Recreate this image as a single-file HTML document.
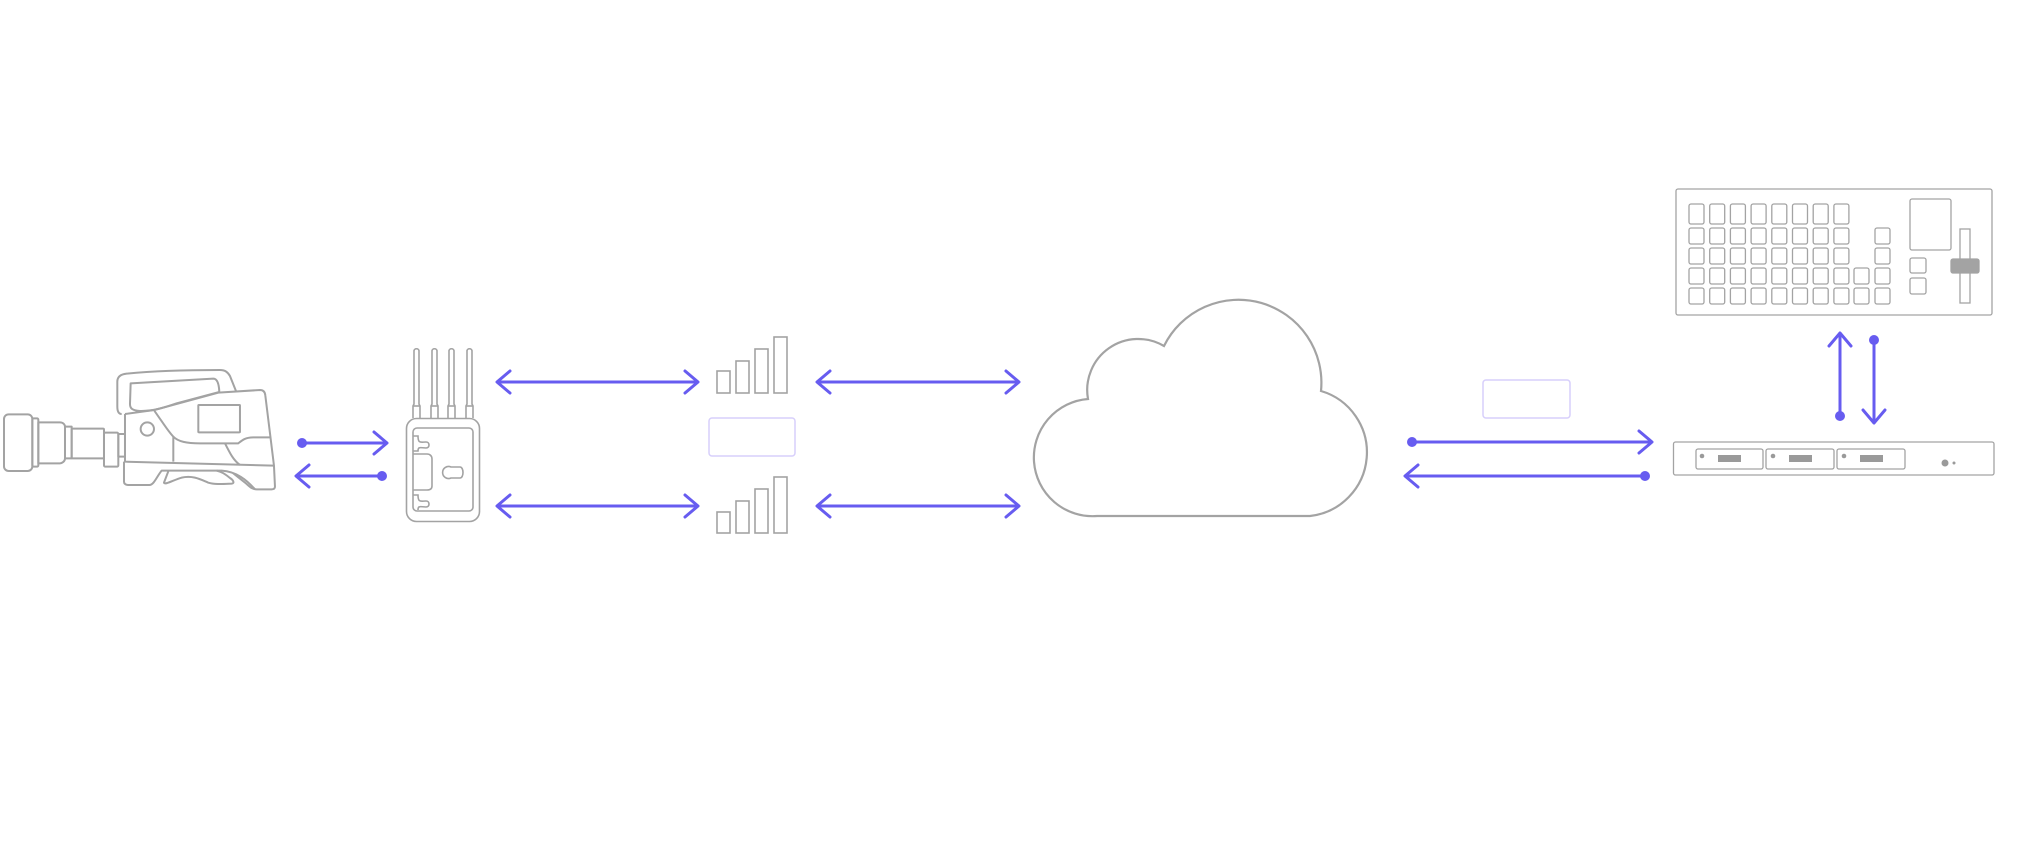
<!DOCTYPE html>
<html><head><meta charset="utf-8"><style>
html,body{margin:0;padding:0;background:#fff;}
svg{display:block;}
</style></head><body>
<svg width="2033" height="864" viewBox="0 0 2033 864" xmlns="http://www.w3.org/2000/svg">
<defs>
<g id="ar"><path d="M-13,-11 L0,0 L-13,11" fill="none" stroke="#675cf0" stroke-width="3" stroke-linecap="round" stroke-linejoin="round"/></g>
</defs>
<g fill="none" stroke="#a3a3a3">
<!-- camera -->
<g transform="translate(0,320) scale(0.3333)" stroke-width="6" stroke-linejoin="round">
<rect x="12" y="283" width="85" height="170" rx="14"/>
<rect x="97" y="295" width="18" height="145" rx="4"/>
<path d="M115,307 L180,307 C190,307 195,315 195,320 L195,415 C195,425 185,430 180,430 L115,430 Z"/>
<rect x="195" y="320" width="20" height="95"/>
<rect x="215" y="326" width="97" height="89" rx="3"/>
<rect x="312" y="338" width="43" height="102" rx="4"/>
<rect x="355" y="342" width="20" height="68"/>
<path d="M375,282 L375,425 L820,437"/>
<path d="M365,282 C355,282 352,272 352,260 L352,185 C352,170 362,163 380,161 C470,152 560,150 660,150 C675,150 683,156 690,168 L708,213"/>
<path d="M392,190 L640,176 C652,176 657,190 658,216 L530,250 C495,262 460,274 420,273 C398,272 390,266 390,252 Z"/>
<path d="M375,282 L463,270 L655,218 L780,210 C790,210 795,216 796,226 L822,437 L825,500 C825,506 820,508 815,508 L770,508 C755,508 750,500 735,488 L700,460"/>
<rect x="595" y="255" width="125" height="82" rx="2"/>
<circle cx="442" cy="327" r="20"/>
<path d="M463,272 C490,310 505,335 520,350 L520,425"/>
<path d="M520,350 C535,365 560,370 600,370 L715,370 C725,362 735,352 760,352 L810,352"/>
<path d="M675,370 C690,400 700,420 720,435"/>
<path d="M372,425 L372,485 C372,492 378,495 386,495 L448,495 C462,495 470,470 485,452 L665,452 C710,455 740,480 765,508"/>
<path d="M505,454 L492,488 C495,496 520,480 545,473 C580,465 605,480 625,488 C645,494 670,492 695,491 C705,490 700,480 690,474 C675,462 665,455 650,452"/>
</g>
<!-- transmitter -->
<g stroke-width="1.6">
<rect x="406.5" y="418.5" width="73" height="103" rx="10"/>
<rect x="413" y="428" width="60" height="83" rx="4"/>
<path d="M413,436 L418,436 C418,444 421,442 426,442 C430,442 430,448 426,448 C421,448 418,446 418,451 L413,451"/>
<path d="M413,495 L418,495 C418,503 421,501 426,501 C430,501 430,507 426,507 C421,507 418,505 418,510"/>
<path d="M413,454 L427,454 C430,454 432,456 432,459 L432,486 C432,489 430,490 427,490 L413,490"/>
<path d="M451,467 A6,6 0 1 0 451,478 L460,478 C464,478 464,467 460,467 Z"/>
<g id="ant"><path d="M413,418 L413,406 L414,404 L414,351 C414,348 419,348 419,351 L419,404 L420,406 L420,418"/><line x1="413" y1="406" x2="420" y2="406"/></g>
<use href="#ant" x="18"/><use href="#ant" x="35"/><use href="#ant" x="53"/>
<!-- bars -->
<rect x="717" y="371" width="13" height="22"/><rect x="736" y="361" width="13" height="32"/><rect x="755" y="349" width="13" height="44"/><rect x="774" y="337" width="13" height="56"/>
<rect x="717" y="512" width="13" height="21"/><rect x="736" y="501" width="13" height="32"/><rect x="755" y="489" width="13" height="44"/><rect x="774" y="477" width="13" height="56"/>
</g>
<!-- cloud -->
<path stroke-width="2.2" d="M1097,516 A58,58 0 0 1 1088,399 A51,51 0 0 1 1164,346 A83,83 0 0 1 1321,391 A64,64 0 0 1 1310,516 Z"/>
<!-- switcher -->
<g stroke-width="1.3">
<rect x="1676" y="189" width="316" height="126" rx="2"/>
<g id="b0">
<rect x="1689" y="204" width="15" height="20" rx="2"/><rect x="1689" y="228" width="15" height="16" rx="2"/><rect x="1689" y="248" width="15" height="16" rx="2"/><rect x="1689" y="268" width="15" height="16" rx="2"/><rect x="1689" y="288" width="15" height="16" rx="2"/>
</g>
<use href="#b0" x="20.7"/><use href="#b0" x="41.4"/><use href="#b0" x="62.1"/><use href="#b0" x="82.8"/><use href="#b0" x="103.5"/><use href="#b0" x="124.2"/><use href="#b0" x="144.9"/>
<rect x="1854" y="268" width="15" height="16" rx="2"/><rect x="1854" y="288" width="15" height="16" rx="2"/>
<rect x="1875" y="228" width="15" height="16" rx="2"/><rect x="1875" y="248" width="15" height="16" rx="2"/><rect x="1875" y="268" width="15" height="16" rx="2"/><rect x="1875" y="288" width="15" height="16" rx="2"/>
<rect x="1910" y="199" width="41" height="51" rx="2"/>
<rect x="1910" y="258" width="16" height="15" rx="2"/><rect x="1910" y="278" width="16" height="16" rx="2"/>
<rect x="1960" y="229" width="10" height="74"/>
<rect x="1951" y="259" width="28" height="14" rx="2" fill="#a3a3a3"/>
</g>
<!-- rack -->
<g stroke-width="1.3">
<rect x="1673.5" y="442" width="320.5" height="33" rx="2"/>
<rect x="1696" y="449" width="67" height="20" rx="2"/><rect x="1766" y="449" width="68" height="20" rx="2"/><rect x="1837" y="449" width="68" height="20" rx="2"/>
</g>
<g fill="#9a9a9a" stroke="none">
<circle cx="1702" cy="456" r="2.3"/><rect x="1718" y="455" width="23" height="7"/>
<circle cx="1773" cy="456" r="2.3"/><rect x="1789" y="455" width="23" height="7"/>
<circle cx="1844" cy="456" r="2.3"/><rect x="1860" y="455" width="23" height="7"/>
<circle cx="1945" cy="463" r="3.5"/><circle cx="1954" cy="463" r="1.5"/>
</g>
</g>
<!-- label boxes -->
<rect x="709" y="418" width="86" height="38" rx="3" fill="none" stroke="#d7cffb" stroke-width="1.5"/>
<rect x="1483" y="380" width="87" height="38" rx="3" fill="none" stroke="#d7cffb" stroke-width="1.5"/>
<!-- arrows -->
<g stroke="#675cf0" stroke-width="3" fill="none" stroke-linecap="round">
<line x1="302" y1="443" x2="386" y2="443"/><line x1="297" y1="476" x2="382" y2="476"/>
<line x1="498" y1="382" x2="697" y2="382"/><line x1="498" y1="506" x2="697" y2="506"/>
<line x1="818" y1="382" x2="1018" y2="382"/><line x1="818" y1="506" x2="1018" y2="506"/>
<line x1="1412" y1="442" x2="1651" y2="442"/><line x1="1406" y1="476" x2="1645" y2="476"/>
<line x1="1840" y1="334" x2="1840" y2="416"/><line x1="1874" y1="340" x2="1874" y2="422"/>
</g>
<g fill="#675cf0">
<circle cx="302" cy="443" r="5"/><circle cx="382" cy="476" r="5"/>
<circle cx="1412" cy="442" r="5"/><circle cx="1645" cy="476" r="5"/>
<circle cx="1840" cy="416" r="5"/><circle cx="1874" cy="340" r="5"/>
</g>
<use href="#ar" transform="translate(387,443)"/>
<use href="#ar" transform="translate(296,476) rotate(180)"/>
<use href="#ar" transform="translate(497,382) rotate(180)"/><use href="#ar" transform="translate(698,382)"/>
<use href="#ar" transform="translate(497,506) rotate(180)"/><use href="#ar" transform="translate(698,506)"/>
<use href="#ar" transform="translate(817,382) rotate(180)"/><use href="#ar" transform="translate(1019,382)"/>
<use href="#ar" transform="translate(817,506) rotate(180)"/><use href="#ar" transform="translate(1019,506)"/>
<use href="#ar" transform="translate(1652,442)"/>
<use href="#ar" transform="translate(1405,476) rotate(180)"/>
<use href="#ar" transform="translate(1840,333) rotate(-90)"/>
<use href="#ar" transform="translate(1874,423) rotate(90)"/>
</svg>
</body></html>
